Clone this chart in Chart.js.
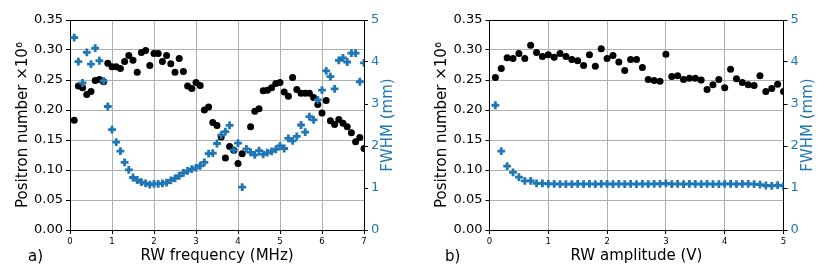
<!DOCTYPE html>
<html lang="en">
<head>
    <meta charset="UTF-8">
    <title>RW scans</title>
    <script src="https://cdn.jsdelivr.net/npm/chart.js@4.4.1/dist/chart.umd.min.js"></script>
    <style>
        body { margin: 0; background: #fff; font-family: "DejaVu Sans", sans-serif; }
        #wrap { position: relative; width: 830px; height: 273px; }
        canvas { position: absolute; top: 0; }
        .tag { position: absolute; top: 247px; font-size: 15px; line-height: 18px; color: #000; }
    </style>
</head>
<body>
    <div id="wrap">
        <canvas id="canvasFreq" width="415" height="273" style="left:0"></canvas>
        <canvas id="canvasAmp" width="415" height="273" style="left:415px"></canvas>
        <div class="tag" style="left:28px">a)</div>
        <div class="tag" style="left:445px">b)</div>
    </div>

    <script>
        // panel a) - scan over RW frequency
        const freqMHz = [0.1,0.2,0.3,0.4,0.5,0.6,0.7,0.8,0.9,1.0,
                         1.1,1.2,1.3,1.4,1.5,1.6,1.7,1.8,1.9,2.0,
                         2.1,2.2,2.3,2.4,2.5,2.6,2.7,2.8,2.9,3.0,
                         3.1,3.2,3.3,3.4,3.5,3.6,3.7,3.8,3.9,4.0,
                         4.1,4.2,4.3,4.4,4.5,4.6,4.7,4.8,4.9,5.0,
                         5.1,5.2,5.3,5.4,5.5,5.6,5.7,5.8,5.9,6.0,
                         6.1,6.2,6.3,6.4,6.5,6.6,6.7,6.8,6.9,7.0]
        const positronFreq = [0.183,0.240,0.237,0.226,0.231,0.249,0.251,0.247,0.278,0.272,
                              0.272,0.269,0.281,0.291,0.283,0.263,0.296,0.299,0.274,0.294,
                              0.294,0.281,0.291,0.277,0.263,0.286,0.264,0.240,0.236,0.246,
                              0.241,0.200,0.205,0.179,0.174,0.155,0.120,0.139,0.133,0.111,
                              0.127,null,0.172,0.198,0.202,0.232,0.233,0.237,0.244,0.246,
                              0.230,0.223,0.254,0.234,0.228,0.228,0.228,0.221,0.209,0.195,
                              0.216,0.182,0.176,0.184,0.178,0.172,0.162,0.147,0.154,0.136]
        const fwhmFreq = [4.58,4.01,3.50,4.23,3.95,4.33,4.03,3.55,2.94,2.39,
                          2.09,1.88,1.61,1.43,1.25,1.19,1.14,1.11,1.08,1.10,
                          1.10,1.11,1.13,1.18,1.23,1.29,1.36,1.41,1.45,1.48,
                          1.53,1.61,1.82,1.83,2.06,2.26,2.34,2.49,1.90,2.07,
                          1.02,1.93,1.85,1.79,1.89,1.80,1.84,1.87,1.92,2.00,
                          1.94,2.18,2.12,2.23,2.50,2.33,2.70,2.62,3.10,3.33,
                          3.79,3.65,3.36,4.04,4.10,4.00,4.21,4.21,3.53,3.98]

        // panel b) - scan over RW amplitude
        const ampV = [0.1,0.2,0.3,0.4,0.5,0.6,0.7,0.8,0.9,1.0,
                      1.1,1.2,1.3,1.4,1.5,1.6,1.7,1.8,1.9,2.0,
                      2.1,2.2,2.3,2.4,2.5,2.6,2.7,2.8,2.9,3.0,
                      3.1,3.2,3.3,3.4,3.5,3.6,3.7,3.8,3.9,4.0,
                      4.1,4.2,4.3,4.4,4.5,4.6,4.7,4.8,4.9,5.0]
        const positronAmp = [0.254,0.269,0.287,0.286,0.294,0.286,0.308,0.296,0.289,0.292,
                             0.288,0.294,0.289,0.284,0.282,0.274,0.292,0.273,0.302,0.286,
                             0.291,0.280,0.266,0.284,0.284,0.271,0.251,0.249,0.248,0.293,
                             0.256,0.257,0.251,0.253,0.253,0.250,0.234,0.242,0.251,0.237,
                             0.268,0.252,0.246,0.242,0.241,0.257,0.231,0.236,0.243,0.231]
        const fwhmAmp = [2.97,1.88,1.52,1.37,1.26,1.17,1.17,1.11,1.11,1.10,
                         1.10,1.09,1.09,1.09,1.10,1.09,1.10,1.09,1.10,1.10,
                         1.09,1.10,1.09,1.10,1.09,1.10,1.09,1.10,1.10,1.11,
                         1.09,1.10,1.09,1.10,1.10,1.09,1.10,1.09,1.09,1.10,
                         1.10,1.09,1.10,1.10,1.09,1.08,1.06,1.05,1.07,1.05]

        const BLUE = '#1f77b4'
        const GRID = '#b0b0b0'
        const FONT = '"DejaVu Sans"'

        // top spine + right axis title (matplotlib reads it bottom->top)
        const extras = {
            id: 'extras',
            afterDraw(chart, args, opts) {
                const { ctx, chartArea: a } = chart
                ctx.save()
                ctx.strokeStyle = '#000'
                ctx.lineWidth = 1
                ctx.beginPath()
                ctx.moveTo(a.left, a.top + 0.5)
                ctx.lineTo(a.right, a.top + 0.5)
                ctx.stroke()
                ctx.translate(opts.titleX, (a.top + a.bottom) / 2)
                ctx.rotate(-Math.PI / 2)
                ctx.fillStyle = BLUE
                ctx.font = '15px ' + FONT
                ctx.textAlign = 'center'
                ctx.textBaseline = 'middle'
                ctx.fillText('FWHM (mm)', 0, 0)
                ctx.restore()
            }
        }

        function toPoints(xs, ys) {
            return xs.map((x, i) => ({ x: x, y: ys[i] })).filter(p => p.y !== null)
        }

        function createPanel(element, xs, pos, fwhm, s) {
            new Chart(element, {
                type: 'scatter',
                data: {
                    datasets: [
                        {
                            label: 'FWHM',
                            data: toPoints(xs, fwhm),
                            yAxisID: 'y1',
                            pointStyle: 'cross',
                            pointRadius: 3.9,
                            borderWidth: 2.8,
                            borderColor: BLUE,
                            backgroundColor: BLUE,
                            order: 0,
                        },
                        {
                            label: 'Positron number',
                            data: toPoints(xs, pos),
                            yAxisID: 'y',
                            pointStyle: 'circle',
                            pointRadius: 3.5,
                            borderWidth: 0,
                            backgroundColor: '#000',
                            order: 1,
                        },
                    ]
                },
                options: {
                    responsive: false,
                    animation: false,
                    events: [],
                    layout: { padding: { top: 20, left: 0, right: 0, bottom: 0 } },
                    plugins: {
                        legend: { display: false },
                        tooltip: { enabled: false },
                        extras: { titleX: s.rightTitleX },
                    },
                    scales: {
                        x: {
                            type: 'linear',
                            min: 0,
                            max: s.xMax,
                            afterFit: sc => { sc.height = 43 },
                            border: { color: '#000', width: 1 },
                            grid: { color: GRID, lineWidth: 1, tickColor: '#000', tickLength: 4 },
                            ticks: { stepSize: 1, color: '#000', padding: 3, maxRotation: 0,
                                     font: { family: FONT, size: 8.5 } },
                            title: { display: true, text: s.xTitle, color: '#000',
                                     font: { family: FONT, size: 15 }, padding: { top: 0, bottom: 8 } },
                        },
                        y: {
                            position: 'left',
                            min: 0,
                            max: 0.35,
                            afterFit: sc => { sc.width = s.leftWidth },
                            border: { color: '#000', width: 1 },
                            grid: { color: GRID, lineWidth: 1, tickColor: '#000', tickLength: 4 },
                            ticks: { stepSize: 0.05, color: '#000', padding: 3,
                                     font: { family: FONT, size: 13 },
                                     callback: v => v.toFixed(2) },
                            title: { display: true, text: 'Positron number ×10⁶', color: '#000',
                                     font: { family: FONT, size: 15 }, padding: { top: s.leftTitlePad, bottom: 0 } },
                        },
                        y1: {
                            position: 'right',
                            min: 0,
                            max: 5,
                            afterFit: sc => { sc.width = s.rightWidth },
                            border: { color: '#000', width: 1 },
                            grid: { drawOnChartArea: false, tickColor: '#000', tickLength: 4 },
                            ticks: { stepSize: 1, color: BLUE, padding: 3,
                                     font: { family: FONT, size: 13 } },
                        },
                    },
                },
                plugins: [extras],
            })
        }

        createPanel(document.getElementById('canvasFreq'), freqMHz, positronFreq, fwhmFreq, {
            xMax: 7, xTitle: 'RW frequency (MHz)',
            leftWidth: 70, rightWidth: 51, leftTitlePad: 14, rightTitleX: 388.5,
        })
        createPanel(document.getElementById('canvasAmp'), ampV, positronAmp, fwhmAmp, {
            xMax: 5, xTitle: 'RW amplitude (V)',
            leftWidth: 74.5, rightWidth: 46.5, leftTitlePad: 18, rightTitleX: 393,
        })
    </script>
</body>
</html>
